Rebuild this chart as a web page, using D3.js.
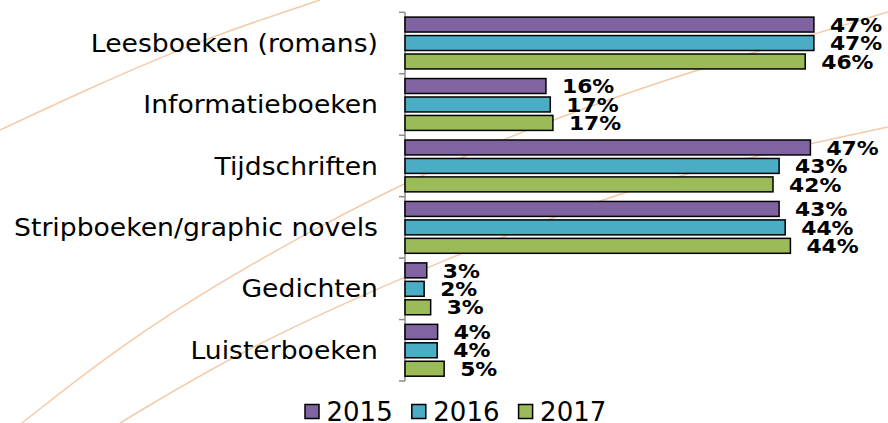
<!DOCTYPE html>
<html>
<head>
<meta charset="utf-8">
<script src="https://cdn.jsdelivr.net/npm/d3@7"></script>
<style>
  html, body { margin: 0; padding: 0; background: #fff; }
  svg { display: block; }
  .cat { font-family: "DejaVu Sans", Verdana, sans-serif; font-size: 24px; fill: #000; }
  .val { font-family: "DejaVu Sans", Verdana, sans-serif; font-size: 19px; font-weight: bold; fill: #000; }
  .leg { font-family: "DejaVu Sans", Verdana, sans-serif; font-size: 26px; fill: #000; }
  .axis path, .axis line { stroke: #8c8c8c; stroke-width: 1.5; }
  .swirl { fill: none; stroke: #f4caa8; stroke-width: 1.5; }
</style>
</head>
<body>
<div id="chart"></div>
<script>
var categories = ["Leesboeken (romans)", "Informatieboeken", "Tijdschriften",
  "Stripboeken/graphic novels", "Gedichten", "Luisterboeken"];
var years = ["2015", "2016", "2017"];
var values2015 = [47.0, 16.2, 46.6, 43.0, 2.5, 3.75];
var values2016 = [47.0, 16.7, 43.0, 43.7, 2.2, 3.7];
var values2017 = [46.0, 17.0, 42.3, 44.3, 2.95, 4.5];
var colors = ["#8064a2", "#4bacc6", "#9bbb59"];

var width = 888;
var height = 423;
var series = [values2015, values2016, values2017];

var rows = [];
categories.forEach(function(c, i) {
  years.forEach(function(y, j) {
    rows.push({ cat: c, year: y, value: series[j][i], color: colors[j] });
  });
});

var svg = d3.select("#chart").append("svg")
  .attr("width", width)
  .attr("height", height);

// faint decorative swirls in the background
var swirls = [
  [[0, 130], [90, 88], [200, 40], [320, 0]],
  [[22, 423], [140, 330], [300, 235], [470, 150], [660, 80], [888, 12]],
  [[120, 423], [250, 345], [430, 265], [650, 178], [888, 127]]
];
var swirlLine = d3.line().curve(d3.curveBasis);
svg.append("g").selectAll("path")
  .data(swirls)
  .enter().append("path")
    .attr("class", "swirl")
    .attr("d", swirlLine);

var x = d3.scaleLinear()
  .domain([0, 50])
  .range([405, 840]);

var y = d3.scaleBand()
  .domain(categories)
  .range([12.3, 381])
  .padding(0);

var yInner = d3.scaleBand()
  .domain(years)
  .range([4.8, y.bandwidth() - 4.8])
  .paddingInner(0.19)
  .paddingOuter(0);

// category axis
var axis = svg.append("g")
  .attr("class", "axis")
  .attr("transform", "translate(405,0)");
axis.append("path")
  .attr("d", "M0," + y.range()[0] + "V" + y.range()[1]);
axis.selectAll("line")
  .data(d3.range(categories.length + 1))
  .enter().append("line")
    .attr("x1", -6)
    .attr("x2", 0)
    .attr("y1", function(i) { return y.range()[0] + i * y.step(); })
    .attr("y2", function(i) { return y.range()[0] + i * y.step(); });

svg.append("g").selectAll("text")
  .data(categories)
  .enter().append("text")
    .attr("class", "cat")
    .attr("text-anchor", "end")
    .attr("transform", function(d) {
      return "translate(378," + (y(d) + y.bandwidth() / 2 + 8.6) + ") scale(1.11,1)";
    })
    .text(function(d) { return d; });

// bars
var bars = svg.append("g");
bars.selectAll("rect")
  .data(rows)
  .enter().append("rect")
    .attr("x", x(0))
    .attr("y", function(d) { return y(d.cat) + yInner(d.year); })
    .attr("width", function(d) { return x(d.value) - x(0); })
    .attr("height", yInner.bandwidth())
    .attr("fill", function(d) { return d.color; })
    .attr("stroke", "#000")
    .attr("stroke-width", 1.5);

bars.selectAll("text")
  .data(rows)
  .enter().append("text")
    .attr("class", "val")
    .attr("transform", function(d) {
      var cy = y(d.cat) + yInner(d.year) + yInner.bandwidth() / 2;
      return "translate(" + (x(d.value) + 16) + "," + (cy + 7.2) + ") scale(1.15,1)";
    })
    .text(function(d) { return Math.round(d.value) + "%"; });

// legend
var legend = svg.append("g")
  .selectAll("g")
  .data(years)
  .enter().append("g")
    .attr("transform", function(d, i) { return "translate(" + (305 + i * 106.8) + ",0)"; });

legend.append("rect")
  .attr("x", 0)
  .attr("y", 404.5)
  .attr("width", 14)
  .attr("height", 14)
  .attr("fill", function(d, i) { return colors[i]; })
  .attr("stroke", "#000")
  .attr("stroke-width", 1.5);

legend.append("text")
  .attr("class", "leg")
  .attr("x", 21.5)
  .attr("y", 420.5)
  .text(function(d) { return d; });
</script>
</body>
</html>
